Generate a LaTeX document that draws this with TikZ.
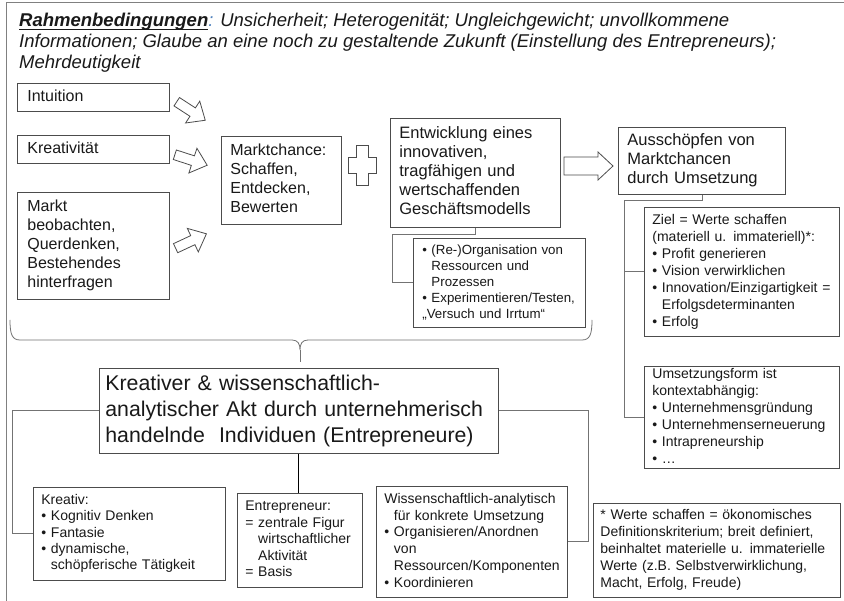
\documentclass[tikz,border=0pt]{standalone}
\usepackage{fontspec}
\setmainfont{Liberation Sans}
\usetikzlibrary{calc}
\definecolor{boxline}{gray}{0.3}
\definecolor{connc}{gray}{0.45}
\definecolor{framec}{gray}{0.5}
\definecolor{txt}{gray}{0.1}
\definecolor{colonblue}{RGB}{79,129,189}
\newcommand\fs[2]{\fontsize{#1}{#2}\selectfont}
\newcommand\bu{\textbullet\ }
\newcommand\ind{\hphantom{\textbullet\ }}
\newcommand\indeq{\hphantom{=\ }}
\newcommand\ulbox[1]{\setbox0\hbox{#1}\rlap{\rule[-3pt]{\wd0}{1.4pt}}\box0}
\newcommand\tl[1]{\begin{tabular}{@{}l@{}}#1\end{tabular}}
\tikzset{
 box/.style={draw=boxline, line width=0.8pt, inner ysep=0pt, inner xsep=#1, align=left, anchor=north west, text=txt},
 box/.default=8pt,
 conn/.style={draw=connc, line width=0.8pt},
 harrow/.style={draw=boxline, line width=0.8pt, fill=white, line join=miter},
 ttl/.style={anchor=base west, inner sep=0pt, font=\fs{18.5}{21}\itshape, text=txt},
}
\begin{document}
\begin{tikzpicture}[x=1pt,y=-1pt]
\useasboundingbox (0,0) rectangle (844,601);
\fill[white] (0,0) rectangle (844,601);
\draw[framec, line width=0.8pt] (6,601) -- (6,2) -- (844,2);

% title
\node[ttl] (t1) at (19,27) {\ulbox{\bfseries Rahmenbedingungen}{\color{colonblue}:} Unsicherheit; Heterogenität; Ungleichgewicht; unvollkommene};
\node[ttl] (t2) at (19,48) {Informationen; Glaube an eine noch zu gestaltende Zukunft (Einstellung des Entrepreneurs);};
\node[ttl] (t3) at (19,69) {Mehrdeutigkeit};

% upper left boxes
\node[box=10pt, minimum width=152pt, minimum height=28pt, text width=132pt, font=\fs{16}{19}] (intu) at (17,83) {\tl{Intuition}};
\node[box=10pt, minimum width=152pt, minimum height=28pt, text width=132pt, font=\fs{16}{19}] (krea) at (17,135) {\tl{Kreativität}};
\node[box=10pt, minimum width=152pt, minimum height=107pt, text width=132pt, font=\fs{16}{19}] (markt) at (17,192) {\tl{Markt\\beobachten,\\Querdenken,\\Bestehendes\\hinterfragen}};

% block arrows
\begin{scope}[shift={(191,111)},rotate=-33]
\draw[harrow] (-17,-5) -- (2,-5) -- (2,-13) -- (17,0) -- (2,13) -- (2,5) -- (-17,5) -- cycle;
\end{scope}
\begin{scope}[shift={(191,160)},rotate=-18]
\draw[harrow] (-17,-5) -- (2,-5) -- (2,-13) -- (17,0) -- (2,13) -- (2,5) -- (-17,5) -- cycle;
\end{scope}
\begin{scope}[shift={(191,241)},rotate=25]
\draw[harrow] (-17,-5) -- (2,-5) -- (2,-13) -- (17,0) -- (2,13) -- (2,5) -- (-17,5) -- cycle;
\end{scope}

\node[box=9pt, minimum width=120pt, minimum height=88pt, text width=102pt, font=\fs{16}{19}] (mch) at (221,136) {\tl{Marktchance:\\Schaffen,\\Entdecken,\\Bewerten}};

% plus
\draw[harrow] (356,145) -- (368,145) -- (368,157) -- (376,157) -- (376,173) -- (368,173) -- (368,185) -- (356,185) -- (356,173) -- (348,173) -- (348,157) -- (356,157) -- cycle;

\node[box=9pt, minimum width=170pt, minimum height=109pt, text width=152pt, font=\fs{16.5}{19}] (entw) at (390,118) {\tl{Entwicklung eines\\innovativen,\\tragfähigen und\\wertschaffenden\\Geschäftsmodells}};

\draw[harrow] (564,157) -- (598,157) -- (598,152) -- (613,166) -- (598,180) -- (598,175) -- (564,175) -- cycle;

\node[box=9pt, minimum width=167pt, minimum height=67pt, text width=149pt, font=\fs{16.5}{19}] (ausch) at (618,127) {\tl{Ausschöpfen von\\Marktchancen\\durch Umsetzung}};

\node[box=9pt, minimum width=172pt, minimum height=89pt, text width=154pt, font=\fs{13.3}{16}] (sub) at (413,238) {\tl{\bu(Re-)Organisation von\\\ind Ressourcen und\\\ind Prozessen\\\bu Experimentieren/Testen,\\„Versuch und Irrtum“}};

\node[box=8pt, minimum width=195pt, minimum height=129pt, text width=179pt, font=\fs{14}{17}] (ziel) at (644,207) {\tl{Ziel = Werte schaffen\\(materiell u. immateriell)*:\\\bu Profit generieren\\\bu Vision verwirklichen\\\bu Innovation/Einzigartigkeit =\\\ind Erfolgsdeterminanten\\\bu Erfolg}};

\node[box=8pt, minimum width=195pt, minimum height=102pt, text width=179pt, font=\fs{14}{17}] (umz) at (644,366) {\tl{Umsetzungsform ist\\kontextabhängig:\\\bu Unternehmensgründung\\\bu Unternehmenserneuerung\\\bu Intrapreneurship\\\bu …}};

% connectors upper
\coordinate (lbus) at (392,234);
\draw[conn] (entw.south) |- (lbus) |- (sub.west);
\coordinate (rbus) at (624,200);
\draw[conn] (ausch.south) |- (rbus) |- (umz.west);
\draw[conn] (rbus |- ziel.west) -- (ziel.west);

% brace
\draw[conn] (10,320) .. controls (10,334) and (12,340) .. (20,340) -- (292,340) .. controls (298,340) and (300,344) .. (300,350) .. controls (300,344) and (302,340) .. (308,340) -- (582,340) .. controls (590,340) and (592,334) .. (592,320);
\coordinate (btip) at (300,350);
\draw[conn] (btip) -- ++(0,12);

% lower
\node[box=6pt, minimum width=399pt, minimum height=85pt, text width=387pt, font=\fs{21.3}{26}] (kreat) at (99,368) {\tl{Kreativer \& wissenschaftlich-\\analytischer Akt durch unternehmerisch\\handelnde\ \ Individuen (Entrepreneure)}};

\node[box=8pt, minimum width=192pt, minimum height=93pt, text width=176pt, font=\fs{14}{16.3}] (kreativ) at (33,487) {\tl{Kreativ:\\\bu Kognitiv Denken\\\bu Fantasie\\\bu dynamische,\\\ind schöpferische Tätigkeit}};

\node[box=8pt, minimum width=125pt, minimum height=94pt, text width=109pt, font=\fs{14}{16.5}] (entre) at (237,493) {\tl{Entrepreneur:\\= zentrale Figur\\\indeq wirtschaftlicher\\\indeq Aktivität\\= Basis}};

\node[box=8pt, minimum width=191pt, minimum height=111pt, text width=175pt, font=\fs{14}{16.8}] (wiss) at (376,486) {\tl{Wissenschaftlich-analytisch\\\ind für konkrete Umsetzung\\\bu Organisieren/Anordnen\\\ind von\\\ind Ressourcen/Komponenten\\\bu Koordinieren}};

\node[box=7pt, minimum width=247pt, minimum height=94pt, text width=233pt, font=\fs{14}{17}] (foot) at (593,503) {\tl{* Werte schaffen = ökonomisches\\Definitionskriterium; breit definiert,\\beinhaltet materielle u. immaterielle\\Werte (z.B. Selbstverwirklichung,\\Macht, Erfolg, Freude)}};

\coordinate (kl) at (12,0);
\coordinate (kr) at (588,0);
\draw[conn] (kreat.west) -- (kreat.west -| kl) |- (kreativ.west);
\draw[conn] (kreat.east) -- (kreat.east -| kr) |- (wiss.east);
\draw[black, line width=1pt] (kreat.south) -- (kreat.south |- entre.north);
\end{tikzpicture}
\end{document}
